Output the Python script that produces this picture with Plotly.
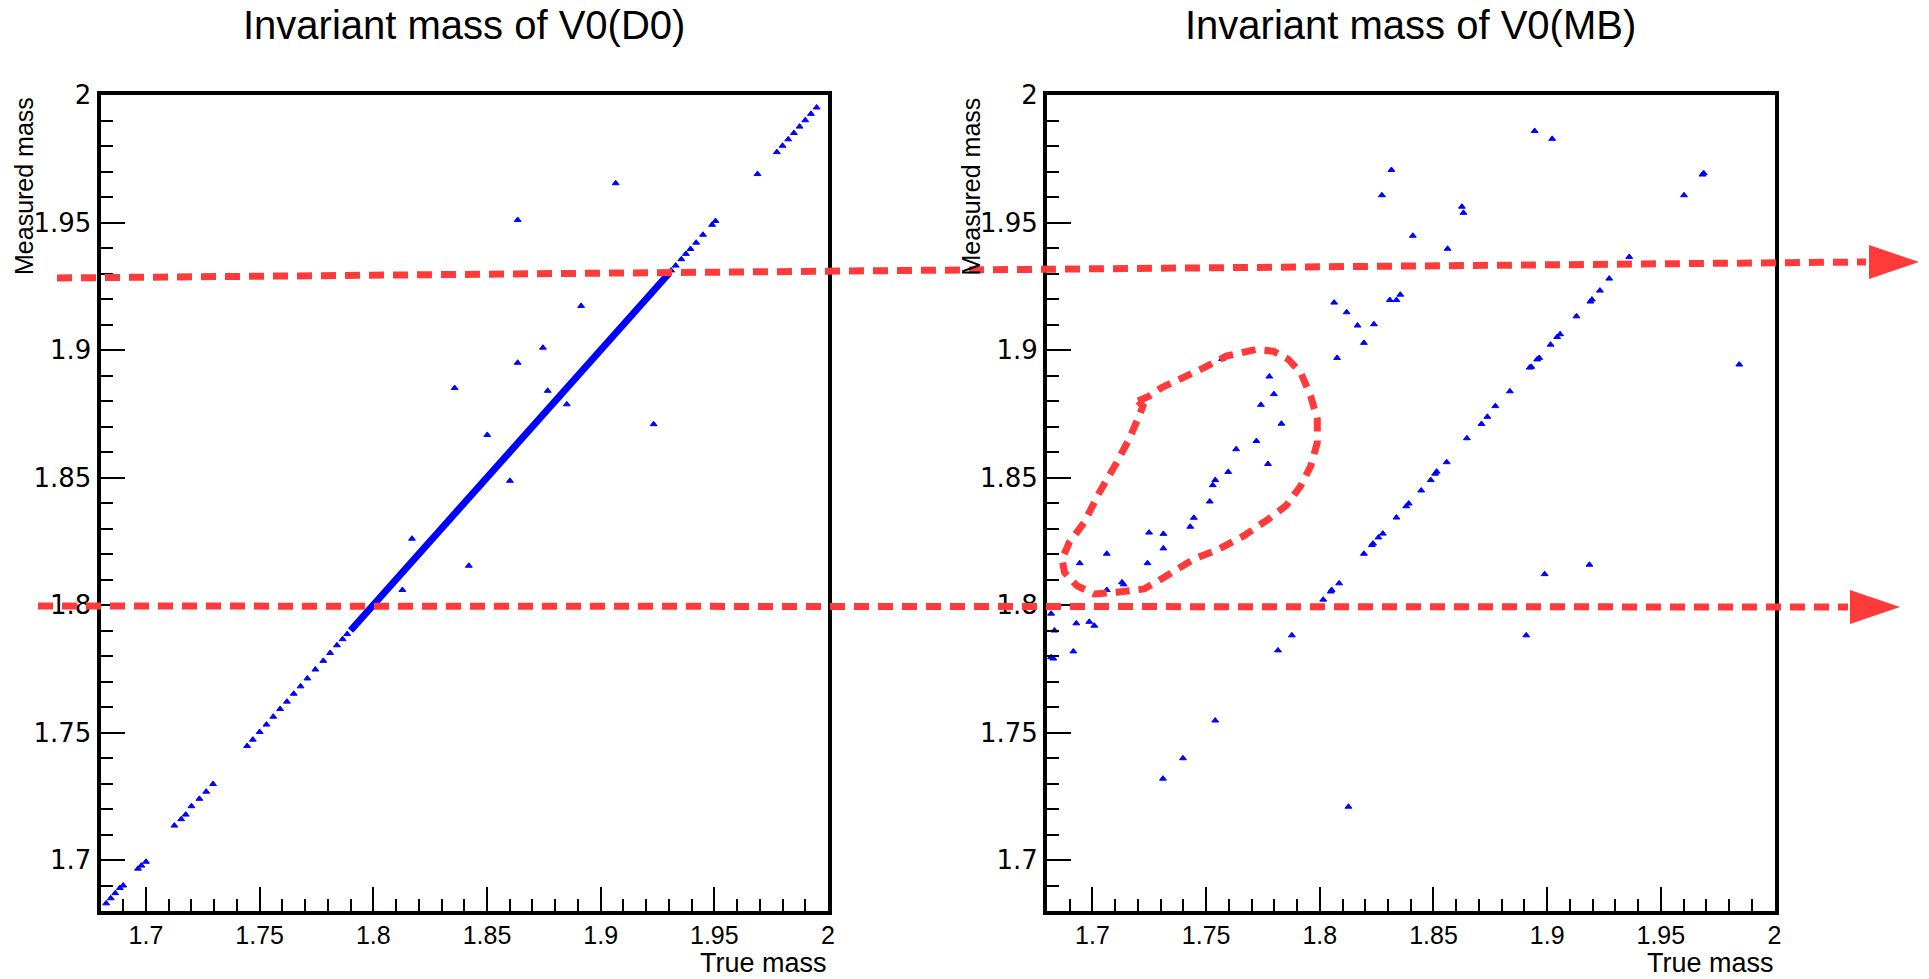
import plotly.graph_objects as go

# ---------------- data ----------------
# V0(D0): dense band where measured == true (start, end of the band)
d0_band_true = [1.790, 1.930]
d0_band_meas = [1.790, 1.930]

# V0(D0): individual entries (sparse diagonal + outliers)
d0_true = [1.6825, 1.6845, 1.6865, 1.6885, 1.6900, 1.6965, 1.6980, 1.7000,
           1.7125, 1.7155, 1.7175, 1.7200, 1.7235, 1.7265, 1.7295,
           1.7445, 1.7470, 1.7500, 1.7530, 1.7560, 1.7590, 1.7620, 1.7650,
           1.7680, 1.7710, 1.7745, 1.7780, 1.7810, 1.7840, 1.7865, 1.7885,
           1.9310, 1.9330, 1.9355, 1.9375, 1.9395, 1.9420, 1.9450, 1.9490, 1.9505,
           1.9690, 1.9775, 1.9800, 1.9825, 1.9850, 1.9875, 1.9900, 1.9925, 1.9950,
           1.9066, 1.8635, 1.8914, 1.8746, 1.8635, 1.8358, 1.8767, 1.8851,
           1.9233, 1.8501, 1.8601, 1.8170, 1.8420, 1.8128]
d0_meas = [1.6830, 1.6850, 1.6870, 1.6890, 1.6900, 1.6966, 1.6978, 1.6993,
           1.7135, 1.7160, 1.7178, 1.7211, 1.7240, 1.7268, 1.7298,
           1.7447, 1.7472, 1.7502, 1.7531, 1.7562, 1.7592, 1.7621, 1.7652,
           1.7681, 1.7712, 1.7747, 1.7781, 1.7812, 1.7842, 1.7866, 1.7886,
           1.9312, 1.9331, 1.9356, 1.9377, 1.9396, 1.9421, 1.9452, 1.9491, 1.9506,
           1.9690, 1.9776, 1.9801, 1.9826, 1.9851, 1.9876, 1.9901, 1.9926, 1.9951,
           1.9654, 1.9510, 1.9173, 1.9009, 1.8950, 1.8851, 1.8840, 1.8787,
           1.8709, 1.8667, 1.8487, 1.8260, 1.8154, 1.8059]

# V0(MB): individual entries
mb_true = [1.8945, 1.9022, 1.8315, 1.8273, 1.8625, 1.8632, 1.8409, 1.8562,
           1.9361, 1.9602, 1.9689, 1.9683,
           1.9273, 1.9232, 1.9197, 1.9190, 1.9129, 1.9057, 1.9044, 1.9015,
           1.8965, 1.8956, 1.8930, 1.8923, 1.8836, 1.8772, 1.8737, 1.8711,
           1.8647, 1.8558, 1.8514, 1.8507, 1.8488, 1.8446, 1.8391, 1.8380,
           1.8337, 1.8277, 1.8258, 1.8234, 1.8229, 1.8194, 1.8085, 1.8052,
           1.8048, 1.8015,
           1.8063, 1.8118, 1.8166, 1.8238, 1.8194, 1.8076, 1.8308, 1.8337, 1.8354,
           1.7570, 1.7778, 1.7798, 1.7741, 1.7831, 1.7721, 1.7632, 1.7772,
           1.7597, 1.7540, 1.7529, 1.7516, 1.7446, 1.7430, 1.7249, 1.7312,
           1.7312, 1.7063, 1.7242, 1.6944, 1.7130, 1.7137, 1.7063,
           1.9845, 1.8989, 1.9186,
           1.6818, 1.6833, 1.6929, 1.6986, 1.7008, 1.6916, 1.6818, 1.6828,
           1.7816, 1.7877, 1.8908, 1.7540, 1.7398, 1.7310, 1.8126]
mb_meas = [1.9859, 1.9828, 1.9706, 1.9607, 1.9562, 1.9538, 1.9448, 1.9397,
           1.9365, 1.9607, 1.9693, 1.9688,
           1.9280, 1.9233, 1.9198, 1.9190, 1.9132, 1.9062, 1.9051, 1.9021,
           1.8969, 1.8963, 1.8934, 1.8931, 1.8838, 1.8780, 1.8738, 1.8710,
           1.8654, 1.8560, 1.8523, 1.8515, 1.8490, 1.8449, 1.8398, 1.8387,
           1.8343, 1.8280, 1.8265, 1.8241, 1.8235, 1.8201, 1.8085, 1.8059,
           1.8053, 1.8021,
           1.9186, 1.9148, 1.9096, 1.9101, 1.9028, 1.8969, 1.9196, 1.9196, 1.9217,
           1.8965, 1.8896, 1.8827, 1.8785, 1.8711, 1.8643, 1.8611, 1.8553,
           1.8522, 1.8490, 1.8470, 1.8406, 1.8342, 1.8307, 1.8284, 1.8279,
           1.8222, 1.8201, 1.8164, 1.8164, 1.8089, 1.8081, 1.8059,
           1.8943, 1.8121, 1.8158,
           1.7966, 1.7900, 1.7928, 1.7934, 1.7919, 1.7818, 1.7795, 1.7790,
           1.7822, 1.7881, 1.7881, 1.7547, 1.7399, 1.7319, 1.7209]

# dashed loop drawn around the off-diagonal group (true, measured)
loop_true = [1.7201, 1.7249, 1.7303, 1.7380, 1.7489, 1.7588, 1.7719, 1.7796,
             1.7862, 1.7916, 1.7960, 1.7989, 1.7989, 1.7960, 1.7916, 1.7851,
             1.7774, 1.7665, 1.7555, 1.7446, 1.7314, 1.7227, 1.7106, 1.7008,
             1.6931, 1.6877, 1.6866, 1.6898, 1.6964, 1.7030, 1.7106, 1.7161,
             1.7205, 1.7222]
loop_meas = [1.8800, 1.8819, 1.8852, 1.8884, 1.8930, 1.8976, 1.9002, 1.8995,
             1.8963, 1.8911, 1.8819, 1.8728, 1.8637, 1.8545, 1.8467, 1.8389,
             1.8337, 1.8271, 1.8219, 1.8180, 1.8108, 1.8063, 1.8050, 1.8043,
             1.8076, 1.8128, 1.8180, 1.8245, 1.8324, 1.8441, 1.8558, 1.8650,
             1.8741, 1.8780]

titles = ["Invariant mass of V0(D0)", "Invariant mass of V0(MB)"]
x_title = "True mass"
y_title = "Measured mass"
axis_range = [1.68, 2.0]
tick_vals = [1.70, 1.75, 1.80, 1.85, 1.90, 1.95, 2.00]
tick_text = ["1.7", "1.75", "1.8", "1.85", "1.9", "1.95", "2"]

# ---------------- layout geometry (pixels) ----------------
W, H = 1929, 979
def PX(v):
    return v / W
def PY(v):
    return 1 - v / H

L_DOM = [PX(100.5), PX(828)]
R_DOM = [PX(1047), PX(1774.5)]
Y_DOM = [PY(911), PY(95)]

BLUE = "rgb(0,0,255)"
RED = "rgb(255,58,58)"

fig = go.Figure()

fig.add_trace(go.Scatter(x=d0_band_true, y=d0_band_meas, mode="lines",
                         line=dict(color=BLUE, width=7), xaxis="x", yaxis="y",
                         showlegend=False, hoverinfo="skip"))
fig.add_trace(go.Scatter(x=d0_true, y=d0_meas, mode="markers",
                         marker=dict(color=BLUE, size=6, symbol="triangle-up",
                                     line=dict(width=1, color=BLUE)),
                         xaxis="x", yaxis="y", showlegend=False))
fig.add_trace(go.Scatter(x=mb_true, y=mb_meas, mode="markers",
                         marker=dict(color=BLUE, size=6, symbol="triangle-up",
                                     line=dict(width=1, color=BLUE)),
                         xaxis="x2", yaxis="y2", showlegend=False))

def xax(dom, anchor):
    return dict(domain=dom, anchor=anchor, range=axis_range, showgrid=False,
                zeroline=False, showline=True, linewidth=4, linecolor="black",
                mirror=True, ticks="inside", ticklen=24, tickwidth=1.5,
                tickcolor="black", tickmode="array", tickvals=tick_vals,
                ticktext=tick_text, automargin=False,
                tickfont=dict(family="Liberation Sans, Arial", size=25, color="black"),
                minor=dict(tickmode="linear", tick0=1.68, dtick=0.01, ticks="inside",
                           ticklen=12, tickwidth=1.5, tickcolor="black", showgrid=False),
                ticklabelstandoff=-1)

def yax(anchor):
    return dict(domain=Y_DOM, anchor=anchor, range=axis_range, showgrid=False,
                zeroline=False, showline=True, linewidth=4, linecolor="black",
                mirror=True, ticks="inside", ticklen=24, tickwidth=1.5,
                tickcolor="black", tickmode="array", tickvals=tick_vals,
                ticktext=tick_text, automargin=False,
                tickfont=dict(family="DejaVu Sans", size=26, color="black"),
                minor=dict(tickmode="linear", tick0=1.68, dtick=0.01, ticks="inside",
                           ticklen=12, tickwidth=1.5, tickcolor="black", showgrid=False),
                ticklabelstandoff=0)

fig.update_layout(
    width=W, height=H,
    margin=dict(l=0, r=0, t=0, b=0, pad=0, autoexpand=False),
    paper_bgcolor="white", plot_bgcolor="white",
    xaxis=xax(L_DOM, "y"), yaxis=yax("x"),
    xaxis2=xax(R_DOM, "y2"), yaxis2=yax("x2"),
    showlegend=False,
)

annotations = []
for dom, t in zip([L_DOM, R_DOM], titles):
    annotations.append(dict(text=t, x=(dom[0] + dom[1]) / 2, y=PY(25),
                            xref="paper", yref="paper", xanchor="center",
                            yanchor="middle", showarrow=False,
                            font=dict(family="Liberation Sans, Arial", size=40,
                                      color="black")))
    annotations.append(dict(text=x_title, x=dom[1], y=0, xref="paper",
                            yref="paper", xanchor="right", yanchor="bottom",
                            showarrow=False, borderpad=0,
                            font=dict(family="Liberation Sans, Arial", size=27,
                                      color="black")))
    annotations.append(dict(text=y_title, x=dom[0] - PX(76.5), y=Y_DOM[1],
                            xref="paper", yref="paper", xanchor="center",
                            yanchor="top", textangle=-90, showarrow=False,
                            font=dict(family="Liberation Sans, Arial", size=25,
                                      color="black")))
fig.update_layout(annotations=annotations)

shapes = []
# upper dashed arrow
shapes.append(dict(type="line", xref="paper", yref="paper",
                   x0=PX(57), y0=PY(278), x1=PX(1866), y1=PY(262),
                   line=dict(color=RED, width=7, dash="15px,9px")))
shapes.append(dict(type="path", xref="paper", yref="paper",
                   path=f"M {PX(1869)},{PY(245)} L {PX(1919)},{PY(262)} L {PX(1869)},{PY(279)} Z",
                   fillcolor=RED, line=dict(color=RED, width=0)))
# lower dashed arrow
shapes.append(dict(type="line", xref="paper", yref="paper",
                   x0=PX(38), y0=PY(606), x1=PX(1848), y1=PY(607),
                   line=dict(color=RED, width=7, dash="15px,9px")))
shapes.append(dict(type="path", xref="paper", yref="paper",
                   path=f"M {PX(1850)},{PY(590)} L {PX(1900)},{PY(607)} L {PX(1850)},{PY(624)} Z",
                   fillcolor=RED, line=dict(color=RED, width=0)))
# dashed loop in right panel (data coords)
loop_path = "M " + " L ".join(f"{a},{b}" for a, b in zip(loop_true, loop_meas)) + " Z"
shapes.append(dict(type="path", xref="x2", yref="y2", path=loop_path,
                   line=dict(color=RED, width=7, dash="14px,9px")))
fig.update_layout(shapes=shapes)

fig.write_html("out.html")
